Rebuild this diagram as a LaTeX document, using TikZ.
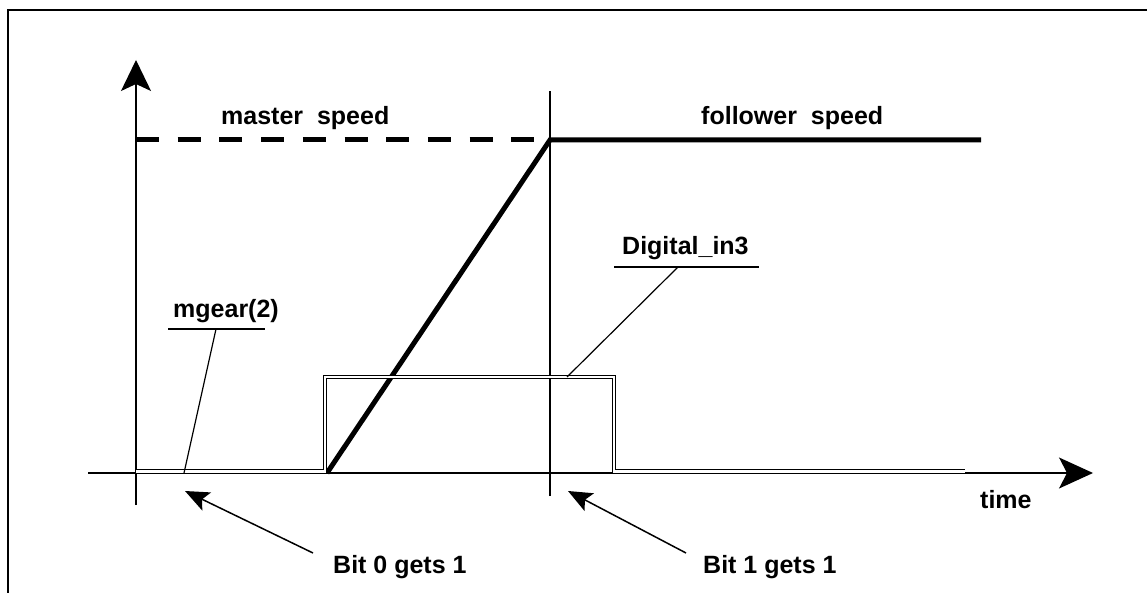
\documentclass[tikz,border=0pt]{standalone}
\usepackage{fontspec}
\setmainfont{Liberation Sans}
\usetikzlibrary{arrows.meta}
\tikzset{
  lbl/.style={font=\fontsize{25}{30}\selectfont\bfseries, inner sep=0pt, anchor=base west},
  axisln/.style={line width=1.3pt},
  heavy/.style={line width=5pt},
  sig/.style={double, double distance=2.2pt, line width=1.1pt},
  leader/.style={line width=1.2pt},
  callout/.style={line width=1.5pt, -{Stealth[length=24pt,width=20pt,inset=5pt]}},
}
\begin{document}
\begin{tikzpicture}[x=1pt,y=-1pt]
\useasboundingbox (0,0) rectangle (1147,593);
% frame
\draw[line width=2.2pt] (8,600) -- (8,10) -- (1160,10);
% coordinates
\coordinate (ybot) at (136,505);
\coordinate (ytop) at (136,60);
\coordinate (xleft) at (88,473);
\coordinate (xright) at (1093,473);
\coordinate (vbot) at (550,496);
\coordinate (vtop) at (550,91);
\coordinate (ms) at (136,140);
\coordinate (sync) at (550,140);
\coordinate (fend) at (981,140);
\coordinate (r0) at (327,473);
% axes
\draw[axisln, -{Stealth[length=31pt,width=30pt,inset=7pt]}] (ybot) -- (ytop);
\draw[axisln, -{Stealth[length=34pt,width=31pt,inset=8pt]}] (xleft) -- (xright);
\draw[axisln] (vbot) -- (vtop);
% speeds
\draw[heavy, dash pattern=on 23pt off 18.7pt] (ms) -- (sync);
\draw[heavy, line join=miter] (r0) -- (sync) -- (fend);
% digital signal
\coordinate (s0) at (136,471.5);
\coordinate (s1) at (325,471.5);
\coordinate (s2) at (325,377);
\coordinate (s3) at (614,377);
\coordinate (s4) at (614,471.5);
\coordinate (s5) at (965,471.5);
\draw[sig] (s0) -- (s1) -- (s2) -- (s3) -- (s4) -- (s5);
% labels
\node[lbl] (mst) at (221,125) {master\ \ speed};
\node[lbl] (fol) at (701,125) {follower\ \ speed};
\node[lbl] (tim) at (980,508) {time};
\node[lbl] (mg) at (173,317) {mgear(2)};
\node[lbl] (dig) at (622,255) {Digital\_in3};
\node[lbl] (b0) at (333,573) {Bit 0 gets 1};
\node[lbl] (b1) at (703,573) {Bit 1 gets 1};
% leaders
\coordinate (mgL) at (168,329);
\coordinate (mgR) at (265,329);
\coordinate (mgA) at (216,329);
\coordinate (mgB) at (184,473);
\draw[leader] (mgL) -- (mgR);
\draw[leader] (mgA) -- (mgB);
\coordinate (dgL) at (614,267);
\coordinate (dgR) at (759,267);
\coordinate (dgA) at (678,267);
\coordinate (dgB) at (567,377);
\draw[leader] (dgL) -- (dgR);
\draw[leader] (dgA) -- (dgB);
% callouts
\coordinate (t0) at (313,553);
\coordinate (p0) at (185,491);
\coordinate (t1) at (686,553);
\coordinate (p1) at (568,491);
\draw[callout] (t0) -- (p0);
\draw[callout] (t1) -- (p1);
\end{tikzpicture}
\end{document}
